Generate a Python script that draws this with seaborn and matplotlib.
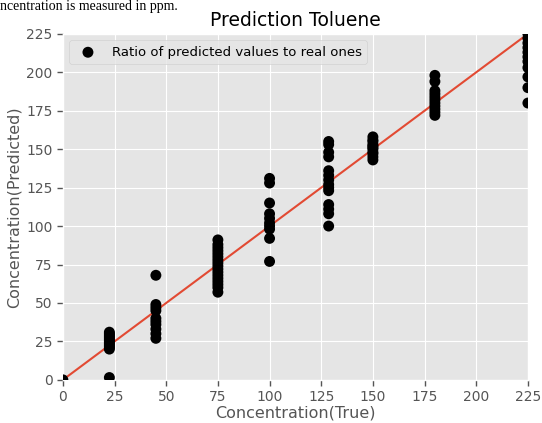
import numpy as np
import pandas as pd
import matplotlib
matplotlib.use('Agg')
import matplotlib.pyplot as plt
import seaborn as sns

# true concentrations (ppm) and the predicted values
true_levels = [0, 22.5, 45, 75, 100, 128.6, 150, 180, 225]
pred_0 = [0]
pred_22 = [1.5, 20, 21, 22, 23, 24, 25, 26, 27, 28, 29, 30, 31]
pred_45 = [27, 30, 33, 36, 38, 40, 45, 47, 49, 68]
pred_75 = [57, 60, 62, 64, 66, 68, 70, 72, 74, 76, 78, 80, 82, 84, 86, 88, 91]
pred_100 = [77, 92, 98, 100, 102, 105, 108, 115, 128, 131]
pred_128 = [100, 108, 111, 114, 123, 125, 127, 130, 133, 136, 145, 148, 153, 155]
pred_150 = [143, 145, 147, 148, 150, 151, 152, 153, 155, 156, 158]
pred_180 = [172, 174, 176, 178, 180, 182, 184, 186, 188, 194, 198]
pred_225 = [180, 190, 197, 203, 207, 210, 213, 216, 219, 222, 225]

groups = [pred_0, pred_22, pred_45, pred_75, pred_100, pred_128, pred_150, pred_180, pred_225]
rows = []
for t, vals in zip(true_levels, groups):
    for v in vals:
        rows.append((t, v))
df = pd.DataFrame(rows, columns=['true', 'pred'])

plt.style.use('ggplot')
fig = plt.figure(figsize=(5.42, 4.23), dpi=100)
ax = fig.add_axes([0.116, 0.102, 0.858, 0.818])

sns.scatterplot(data=df, x='true', y='pred', color='black', s=62, edgecolor='none',
                label='Ratio of predicted values to real ones', ax=ax, zorder=3)
ax.plot([0, 225], [0, 225], color='#E24A33', lw=1.5, zorder=2)

ax.set_xlim(0, 225)
ax.set_ylim(0, 225)
ax.set_xticks(np.arange(0, 226, 25))
ax.set_yticks(np.arange(0, 226, 25))
ax.tick_params(labelsize=10, colors='#555555', length=4, width=1, direction='out')
ax.set_xlabel('Concentration(True)', fontsize=11.5, color='#555555', labelpad=1)
ax.set_ylabel('Concentration(Predicted)', fontsize=11.5, color='#555555', labelpad=3)
ax.set_title('Prediction Toluene', fontsize=13.5, color='black', pad=6)
ax.legend(loc='upper left', fontsize=9.5, frameon=True)

# document line above the figure
fig.text(0.0, 1.0, 'ncentration is measured in ppm.', ha='left', va='top',
         fontsize=10, family='Liberation Serif', color='black')

fig.savefig('out.png', dpi=100)
